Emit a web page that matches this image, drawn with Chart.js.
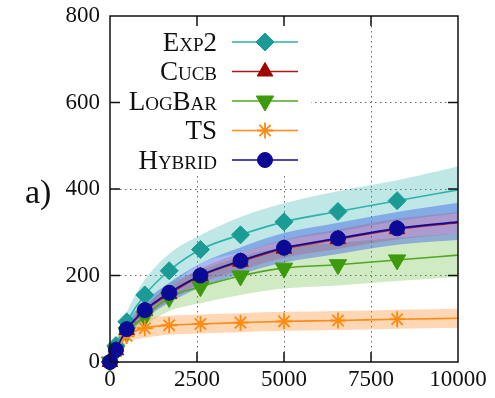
<!DOCTYPE html>
<html>
<head>
<meta charset="utf-8">
<script src="https://cdn.jsdelivr.net/npm/chart.js"></script>
<style>
  html, body { margin: 0; padding: 0; background: #fff; }
</style>
</head>
<body>
<canvas id="chart" width="495" height="398"></canvas>
<script>
// sample positions (x) where the markers sit, last one is the curve end
const steps = [0, 170, 480, 1000, 1700, 2600, 3750, 5000, 6550, 8250, 10000];

const exp2   = [0, 38, 93, 155, 211, 260, 294, 324, 348, 373, 398];
const cucb   = [0, 27, 74, 118, 157, 199, 232, 262, 284, 307, 322];
const logbar = [0, 25, 68, 105, 149, 174, 199, 217, 225, 236, 247];
const ts     = [0, 25, 60, 78, 85, 88, 91, 94, 96, 99, 101];
const hybrid = [0, 28, 76, 120, 160, 200, 234, 264, 286, 309, 324];

// shaded spread around each curve
const exp2Hi   = [0, 50, 115, 190, 250, 293, 335, 367, 395, 420, 452];
const exp2Lo   = [0, 22, 70, 120, 172, 227, 253, 281, 301, 326, 344];
const cucbHi   = [0, 32, 84, 131, 173, 216, 252, 283, 307, 331, 347];
const cucbLo   = [0, 22, 64, 105, 141, 182, 212, 241, 261, 283, 297];
const logbarHi = [0, 32, 80, 125, 180, 212, 243, 266, 275, 287, 297];
const logbarLo = [0, 18, 56, 85, 118, 136, 155, 170, 177, 187, 197];
const tsHi     = [0, 35, 80, 100, 107, 110, 113, 116, 118, 121, 123];
const tsLo     = [0, 15, 44, 56, 63, 66, 69, 72, 74, 77, 79];
const hybridHi = [0, 38, 92, 140, 183, 228, 265, 298, 322, 347, 368];
const hybridLo = [0, 18, 60, 100, 137, 172, 203, 230, 250, 271, 282];

const xTicks = [0, 2500, 5000, 7500, 10000];
const yTicks = [0, 200, 400, 600, 800];

const series = {
  Exp2:   { data: exp2,   hi: exp2Hi,   lo: exp2Lo,   line: '#2bb3ad', mark: '#1a9b95', band: 'rgba(40,175,170,0.3)',  style: 'rectRot', r: 9,   rot: 0 },
  Cucb:   { data: cucb,   hi: cucbHi,   lo: cucbLo,   line: '#b01818', mark: '#a00000', band: 'rgba(190,40,70,0.22)',  style: 'triangle', r: 9, rot: 0 },
  LogBar: { data: logbar, hi: logbarHi, lo: logbarLo, line: '#4fa820', mark: '#3d9a0c', band: 'rgba(100,185,60,0.3)',  style: 'triangle', r: 10, rot: 180 },
  TS:     { data: ts,     hi: tsHi,     lo: tsLo,     line: '#ff8c1a', mark: '#ff8a10', band: 'rgba(255,150,60,0.38)', style: 'star', r: 8,     rot: 0 },
  Hybrid: { data: hybrid, hi: hybridHi, lo: hybridLo, line: '#0c0c9c', mark: '#0a0a96', band: 'rgba(60,100,230,0.45)', style: 'circle', r: 7.5, rot: 0 }
};
const legendOrder = ['Exp2', 'Cucb', 'LogBar', 'TS', 'Hybrid'];
const lineOrder = ['Hybrid', 'TS', 'LogBar', 'Cucb', 'Exp2'];     // first = on top
const bandOrder = ['Cucb', 'Hybrid', 'TS', 'LogBar', 'Exp2'];     // first = on top

const pts = arr => arr.map((v, i) => ({ x: steps[i], y: v }));
const radii = r => steps.map((s, i) => i === steps.length - 1 ? 0 : r);

const datasets = [];
lineOrder.forEach(name => {
  const s = series[name];
  datasets.push({
    label: name,
    data: pts(s.data),
    borderColor: s.line,
    borderWidth: 1.6,
    pointStyle: s.style,
    pointRotation: s.rot,
    pointRadius: radii(s.r),
    pointBackgroundColor: s.mark,
    pointBorderColor: s.mark,
    pointBorderWidth: s.style === 'star' ? 1.8 : 1,
    cubicInterpolationMode: 'monotone',
    fill: false,
    clip: false
  });
});
bandOrder.forEach(name => {
  const s = series[name];
  const upperIdx = datasets.length;
  datasets.push({
    label: name + ' hi', data: pts(s.hi), borderWidth: 0, pointRadius: 0,
    cubicInterpolationMode: 'monotone', fill: false
  });
  datasets.push({
    label: name + ' lo', data: pts(s.lo), borderWidth: 0, pointRadius: 0,
    cubicInterpolationMode: 'monotone', fill: upperIdx, backgroundColor: s.band
  });
});

const serif = "'Liberation Serif', 'DejaVu Serif', serif";

const framePlugin = {
  id: 'frame',
  beforeDatasetsDraw(chart) {
    const { ctx, chartArea: a } = chart;
    // legend backdrop hides the grid behind it
    ctx.save();
    ctx.fillStyle = '#fff';
    ctx.fillRect(a.left + 1, a.top + 1, 200, 157);
    ctx.restore();
  },
  afterDatasetsDraw(chart) {
    const { ctx, chartArea: a, scales } = chart;
    const x = scales.x, y = scales.y;
    ctx.save();
    ctx.strokeStyle = '#111';
    ctx.lineWidth = 1.5;
    ctx.strokeRect(a.left, a.top, a.right - a.left, a.bottom - a.top);
    ctx.beginPath();
    xTicks.slice(1, -1).forEach(v => {
      const px = x.getPixelForValue(v);
      ctx.moveTo(px, a.bottom); ctx.lineTo(px, a.bottom - 10);
      ctx.moveTo(px, a.top); ctx.lineTo(px, a.top + 10);
    });
    yTicks.slice(1, -1).forEach(v => {
      const py = y.getPixelForValue(v);
      ctx.moveTo(a.left, py); ctx.lineTo(a.left + 10, py);
      ctx.moveTo(a.right, py); ctx.lineTo(a.right - 10, py);
    });
    ctx.stroke();

    // legend
    ctx.font = 'small-caps 27px ' + serif;
    ctx.textAlign = 'right';
    ctx.textBaseline = 'alphabetic';
    legendOrder.forEach((name, i) => {
      const s = series[name];
      const cy = 42 + i * 29.5;
      ctx.fillStyle = '#111';
      ctx.fillText(name, 217, cy + 8.5);
      ctx.strokeStyle = s.line;
      ctx.lineWidth = 1.6;
      ctx.beginPath();
      ctx.moveTo(232, cy); ctx.lineTo(298, cy);
      ctx.stroke();
      ctx.fillStyle = s.mark;
      ctx.strokeStyle = s.mark;
      ctx.lineWidth = s.style === 'star' ? 1.8 : 1;
      Chart.helpers.drawPoint(ctx, { pointStyle: s.style, rotation: s.rot, radius: s.r, borderWidth: ctx.lineWidth }, 265, cy);
    });

    // panel label
    ctx.font = '34px ' + serif;
    ctx.textAlign = 'left';
    ctx.fillStyle = '#111';
    ctx.fillText('a)', 25, 203);
    ctx.restore();
  }
};

const noOverflow = sc => {
  sc.paddingTop = 0; sc.paddingBottom = 0; sc.paddingLeft = 0; sc.paddingRight = 0;
};

new Chart(document.getElementById('chart'), {
  type: 'line',
  data: { datasets },
  options: {
    responsive: false,
    devicePixelRatio: 1,
    animation: false,
    layout: { padding: { top: 16, right: 37, left: 0, bottom: 0 } },
    plugins: {
      legend: { display: false },
      tooltip: { enabled: false },
      filler: { drawTime: 'beforeDatasetsDraw' }
    },
    scales: {
      x: {
        type: 'linear', min: 0, max: 10000,
        afterBuildTicks: sc => { sc.ticks = xTicks.map(v => ({ value: v })); },
        afterFit: sc => { sc.height = 36; noOverflow(sc); },
        ticks: { font: { family: serif, size: 23 }, color: '#111', padding: 4, maxRotation: 0, callback: v => String(v) },
        grid: {
          drawTicks: false,
          color: ctx => (ctx.tick && (ctx.tick.value === 0 || ctx.tick.value === 10000)) ? 'rgba(0,0,0,0)' : '#666',
          lineWidth: 1
        },
        border: { display: false, dash: [1.5, 3.5] }
      },
      y: {
        min: 0, max: 800,
        afterBuildTicks: sc => { sc.ticks = yTicks.map(v => ({ value: v })); },
        afterFit: sc => { sc.width = 110; noOverflow(sc); },
        ticks: { font: { family: serif, size: 23 }, color: '#111', padding: 10, callback: v => String(v) },
        grid: {
          drawTicks: false,
          color: ctx => (ctx.tick && (ctx.tick.value === 0 || ctx.tick.value === 800)) ? 'rgba(0,0,0,0)' : '#666',
          lineWidth: 1
        },
        border: { display: false, dash: [1.5, 3.5] }
      }
    }
  },
  plugins: [framePlugin]
});
</script>
</body>
</html>
